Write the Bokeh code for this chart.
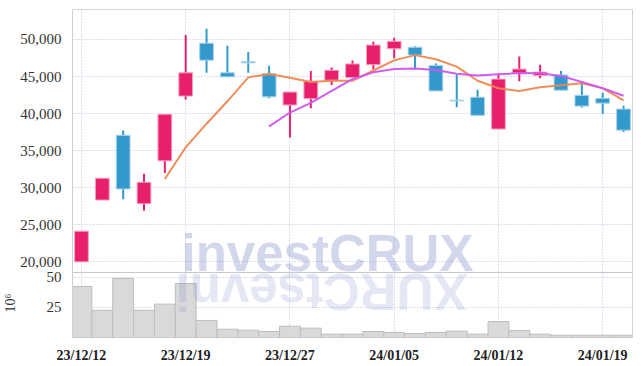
import numpy as np
import pandas as pd
from bokeh.plotting import figure
from bokeh.models import (ColumnDataSource, FixedTicker, Label, Range1d, Title,
                          CustomJSTickFormatter, Span)
from bokeh.embed import file_html
from bokeh.resources import INLINE

dates = ["23/12/12", "23/12/13", "23/12/14", "23/12/15", "23/12/18", "23/12/19",
         "23/12/20", "23/12/21", "23/12/22", "23/12/26", "23/12/27", "23/12/28",
         "24/01/02", "24/01/03", "24/01/04", "24/01/05", "24/01/08", "24/01/09",
         "24/01/10", "24/01/11", "24/01/12", "24/01/15", "24/01/16", "24/01/17",
         "24/01/18", "24/01/19", "24/01/22"]
opens = [19950, 28300, 37050, 27800, 33600, 42350, 49500, 45500, 47000, 45400,
         41150, 42000, 44500, 44850, 46600, 48750, 48950, 46500, 41800, 42200,
         37900, 45500, 45150, 45200, 42450, 42050, 40600]
highs = [24100, 31250, 37700, 31850, 39900, 50600, 51450, 49150, 48300, 46450,
         42900, 45750, 46200, 47150, 49700, 50250, 49100, 46750, 45250, 43200,
         45400, 47700, 46600, 45750, 44350, 42800, 41050]
lows = [19950, 28300, 28400, 26900, 31950, 41900, 45500, 44950, 45500, 42050,
        36750, 40700, 43850, 44850, 45950, 47450, 46000, 43050, 40850, 39700,
        37900, 44350, 44750, 43150, 40800, 39950, 37500]
closes = [24100, 31250, 29800, 30700, 39900, 45500, 47200, 44950, 46850, 42250,
          42900, 44350, 45850, 46700, 49250, 49750, 47900, 43050, 41700, 39750,
          44650, 46000, 45600, 43150, 41000, 41400, 37750]
volumes = [42.5, 22.7, 49.2, 22.7, 27.8, 45.0, 14.2, 6.9, 6.1, 5.0,
           9.4, 7.8, 2.8, 2.8, 5.0, 4.2, 3.3, 4.2, 5.3, 2.8,
           13.3, 5.8, 2.8, 1.9, 1.9, 1.9, 1.9]
price_ticks = [20000, 25000, 30000, 35000, 40000, 45000, 50000]
volume_ticks = [25, 50]
volume_unit = "10\u2076"
watermark = "investCRUX"
label_every = 5

# layout / style constants
RED = "#e8206c"
RED_EDGE = "#f4a3c3"
BLUE = "#3399cc"
BLUE_EDGE = "#a8d2ea"
GRID = "#b9c1da"
TICK_FONT = "Liberation Sans Narrow"
PRICE_RANGE = (9730, 54054)     # price scale over the whole frame (upper pane)
VOL_RANGE = (0, 273.3)          # volume scale over the whole frame (lower pane)
VOL_TOP = 54.2                  # top of the volume pane, in volume units
WM_X, WM_W = 109, 286           # watermark left edge and width, px from frame left

df = pd.DataFrame(dict(x=np.arange(len(dates)), open=opens, high=highs, low=lows,
                       close=closes, vol=volumes))
df["top"] = df[["open", "close"]].max(axis=1)
df["bottom"] = df[["open", "close"]].min(axis=1)
up = df["close"] >= df["open"]
df["color"] = np.where(up, RED, BLUE)
df["edge"] = np.where(up, RED_EDGE, BLUE_EDGE)
df["ma5"] = df["close"].rolling(5).mean()
df["ma10"] = df["close"].rolling(10).mean()
src = ColumnDataSource(df)

label_idx = list(range(0, len(dates), label_every))
overrides = {i: dates[i] for i in label_idx}

# volume ticks expressed on the price scale so that one left axis carries both panes
k = (PRICE_RANGE[1] - PRICE_RANGE[0]) / (VOL_RANGE[1] - VOL_RANGE[0])
vol_ticks_on_price = [PRICE_RANGE[0] + (t - VOL_RANGE[0]) * k for t in volume_ticks]

p = figure(width=642, height=365,
           x_range=Range1d(-0.43, len(dates) - 1 + 0.43),
           y_range=Range1d(*PRICE_RANGE), output_backend="svg",
           toolbar_location=None,
           min_border_left=68, min_border_right=10,
           min_border_top=9, min_border_bottom=28)
p.extra_y_ranges = {"vol": Range1d(*VOL_RANGE)}
p.background_fill_color = "white"
p.border_fill_color = "white"
p.outline_line_color = "#d4d4d4"

p.yaxis.ticker = FixedTicker(ticks=vol_ticks_on_price + price_ticks)
p.yaxis.formatter = CustomJSTickFormatter(
    args=dict(p0=PRICE_RANGE[0], v0=VOL_RANGE[0], k=k, split=min(price_ticks) - 500),
    code="""
if (tick < split) { return String(Math.round(v0 + (tick - p0) / k)); }
return Math.round(tick).toLocaleString('en-US');
""")
p.yaxis.major_tick_line_color = None
p.yaxis.minor_tick_line_color = None
p.yaxis.axis_line_color = "#cfcfcf"
p.yaxis.major_label_text_font = TICK_FONT
p.yaxis.major_label_text_font_size = "15px"
p.yaxis.major_label_text_color = "#333333"
p.yaxis.major_label_standoff = 5

# unit of the volume pane, set low on the left side next to that pane
p.add_layout(Title(text=volume_unit, align="left", vertical_align="bottom",
                   offset=25, standoff=0, text_font="Liberation Serif",
                   text_font_style="normal", text_font_size="14px",
                   text_color="#333333"), "left")

p.xaxis.ticker = FixedTicker(ticks=label_idx)
p.xaxis.major_label_overrides = overrides
p.xaxis.major_tick_line_color = None
p.xaxis.minor_tick_line_color = None
p.xaxis.axis_line_color = None
p.xaxis.major_label_text_font = TICK_FONT
p.xaxis.major_label_text_font_style = "bold"
p.xaxis.major_label_text_font_size = "14px"
p.xaxis.major_label_text_color = "#222222"
p.xaxis.major_label_standoff = 4

p.ygrid.grid_line_color = GRID
p.ygrid.grid_line_dash = "1 2"
p.xgrid.grid_line_color = GRID
p.xgrid.grid_line_dash = "1 2"

# volume pane
p.vbar(x="x", width=1, top="vol", bottom=0, source=src, y_range_name="vol",
       fill_color="#d9d9d9", line_color="#bdbdbd", line_width=1)
p.add_layout(Span(location=VOL_TOP, dimension="width", y_range_name="vol",
                  line_color="#c4c4c4", line_width=1))

# price pane
p.segment(x0="x", y0="low", x1="x", y1="high", source=src, line_color="color", line_width=2)
p.vbar(x="x", width=0.66, top="top", bottom="bottom", source=src,
       fill_color="color", line_color="edge", line_width=1)
p.line(x="x", y="ma5", source=src, line_color="#ee8752", line_width=2, line_alpha=0.95)
p.line(x="x", y="ma10", source=src, line_color="#cc55ee", line_width=2, line_alpha=0.95)

# watermark and its reflection (reversed string turned by 180 degrees)
p.add_layout(Label(x=WM_X, y=83.9, x_units="screen", y_units="screen", text=watermark,
                   text_font="Liberation Sans", text_font_style="bold",
                   text_font_size="51px", text_color="#7d8cc6", text_alpha=0.35,
                   text_baseline="alphabetic", text_align="left"))
p.add_layout(Label(x=WM_X + WM_W, y=46, x_units="screen", y_units="screen",
                   text=watermark[::-1], angle=np.pi,
                   text_font="Liberation Sans", text_font_style="bold",
                   text_font_size="51px", text_color="#7d8cc6", text_alpha=0.2,
                   text_baseline="alphabetic", text_align="left"))

open("out.html", "w").write(file_html(p, INLINE))
